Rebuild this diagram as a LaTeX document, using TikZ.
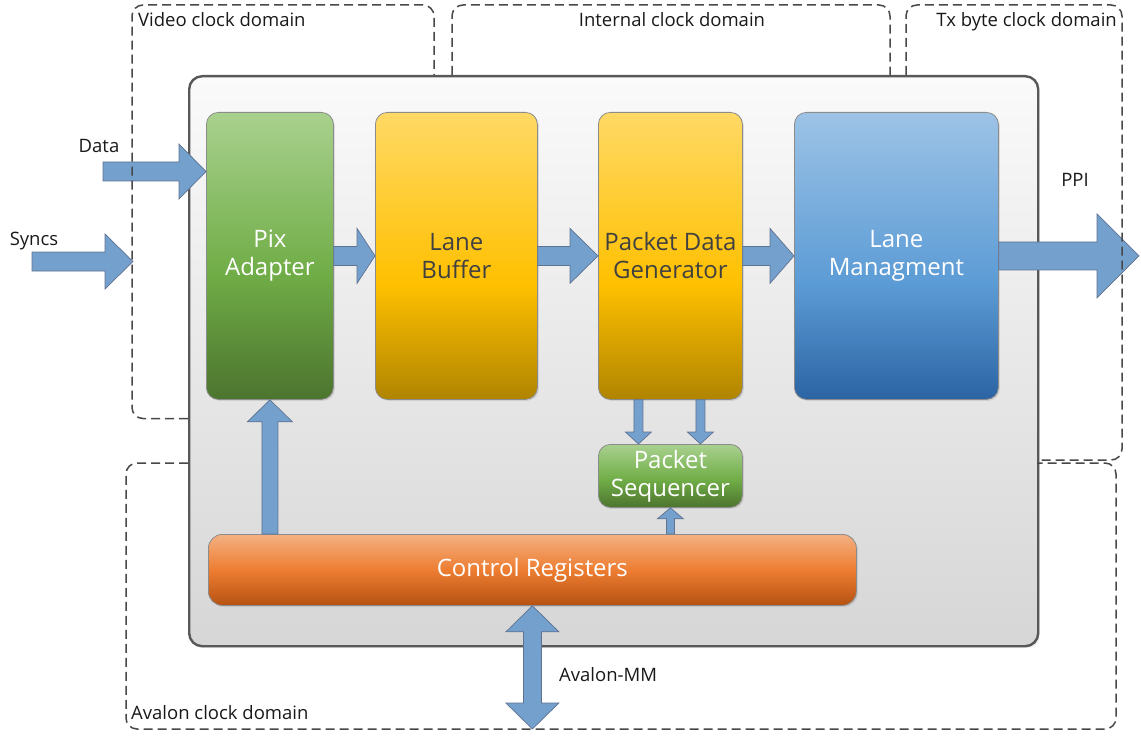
\documentclass[tikz,border=0pt]{standalone}
\usepackage{fontspec}
\setmainfont{Open Sans}
\usetikzlibrary{calc,shadows}
\definecolor{arrfill}{RGB}{116,160,206}
\definecolor{arrdraw}{RGB}{95,115,145}
\definecolor{dashcol}{RGB}{72,72,72}
\definecolor{mainborder}{RGB}{88,88,88}
\definecolor{gT}{RGB}{169,209,142}\definecolor{gM}{RGB}{112,173,71}\definecolor{gB}{RGB}{76,116,46}
\definecolor{yT}{RGB}{255,217,102}\definecolor{yM}{RGB}{255,192,0}\definecolor{yB}{RGB}{176,132,0}
\definecolor{bT}{RGB}{157,195,230}\definecolor{bM}{RGB}{91,155,213}\definecolor{bB}{RGB}{44,100,163}
\definecolor{oT}{RGB}{244,177,131}\definecolor{oM}{RGB}{237,125,49}\definecolor{oB}{RGB}{182,82,18}
\definecolor{mT}{RGB}{250,250,250}\definecolor{mB}{RGB}{214,214,214}
\definecolor{darktext}{RGB}{64,64,64}
\pgfdeclareverticalshading{greensh}{100bp}{color(0bp)=(gB); color(25bp)=(gB); color(47bp)=(gM); color(75bp)=(gT); color(100bp)=(gT)}
\pgfdeclareverticalshading{yellowsh}{100bp}{color(0bp)=(yB); color(25bp)=(yB); color(45bp)=(yM); color(75bp)=(yT); color(100bp)=(yT)}
\pgfdeclareverticalshading{bluesh}{100bp}{color(0bp)=(bB); color(25bp)=(bB); color(45bp)=(bM); color(75bp)=(bT); color(100bp)=(bT)}
\pgfdeclareverticalshading{orangesh}{100bp}{color(0bp)=(oB); color(25bp)=(oB); color(50bp)=(oM); color(75bp)=(oT); color(100bp)=(oT)}
\pgfdeclareverticalshading{mainsh}{100bp}{color(0bp)=(mB); color(25bp)=(mB); color(75bp)=(mT); color(100bp)=(mT)}
\tikzset{
  blockbox/.style={rectangle, rounded corners=12pt, draw=black!45, line width=0.8pt, align=center,
    font=\fontsize{24}{28}\selectfont, inner sep=0pt,
    drop shadow={opacity=0.22, shadow xshift=1.5pt, shadow yshift=-1.5pt}},
  barrow/.style={fill=arrfill, draw=arrdraw, line width=0.7pt, line join=miter},
  clkdomain/.style={draw=dashcol, line width=1.5pt, dash pattern=on 9pt off 5pt, rounded corners=11pt},
  lbl/.style={font=\fontsize{18.5}{20}\selectfont, inner sep=0pt, text=black!90}
}
\newcommand{\rarr}[5]{\path[barrow] let \p1=(#1), \p2=(#2) in (\x1,\y1+#3) -- (\x2-#5,\y1+#3) -- (\x2-#5,\y1+#4) -- (\x2,\y1) -- (\x2-#5,\y1-#4) -- (\x2-#5,\y1-#3) -- (\x1,\y1-#3) -- cycle;}
\newcommand{\uarr}[5]{\path[barrow] let \p1=(#1), \p2=(#2) in (\x1-#3,\y1) -- (\x1-#3,\y2-#5) -- (\x1-#4,\y2-#5) -- (\x1,\y2) -- (\x1+#4,\y2-#5) -- (\x1+#3,\y2-#5) -- (\x1+#3,\y1) -- cycle;}
\newcommand{\darr}[5]{\path[barrow] let \p1=(#1), \p2=(#2) in (\x1-#3,\y1) -- (\x1-#3,\y2+#5) -- (\x1-#4,\y2+#5) -- (\x1,\y2) -- (\x1+#4,\y2+#5) -- (\x1+#3,\y2+#5) -- (\x1+#3,\y1) -- cycle;}
\newcommand{\dblarr}[5]{\path[barrow] let \p1=(#1), \p2=(#2) in (\x1,\y1) -- (\x1+#4,\y1-#5) -- (\x1+#3,\y1-#5) -- (\x1+#3,\y2+#5) -- (\x1+#4,\y2+#5) -- (\x1,\y2) -- (\x1-#4,\y2+#5) -- (\x1-#3,\y2+#5) -- (\x1-#3,\y1-#5) -- (\x1-#4,\y1-#5) -- cycle;}
\begin{document}
\begin{tikzpicture}[x=1pt,y=-1pt]
\useasboundingbox[fill=white] (0,0) rectangle (1141,741);
% main box
\node[rectangle, rounded corners=13pt, draw=mainborder, line width=2.4pt, shading=mainsh,
  minimum width=849pt, minimum height=570pt, anchor=north west, inner sep=0pt,
  drop shadow={opacity=0.15, shadow xshift=1.5pt, shadow yshift=-2pt}] (main) at (188,75) {};
% blocks
\node[blockbox, shading=greensh, text=white, minimum width=127pt, minimum height=287pt, anchor=north west] (pix) at (206,112) {Pix\\Adapter};
\node[blockbox, shading=yellowsh, text=darktext, minimum width=162pt, minimum height=287pt, anchor=north west] (lane) at (375,112) {Lane\\Buffer};
\node[blockbox, shading=yellowsh, text=darktext, minimum width=144pt, minimum height=287pt, anchor=north west] (pdg) at (598,112) {Packet Data\\Generator};
\node[blockbox, shading=bluesh, text=white, minimum width=204pt, minimum height=287pt, anchor=north west] (lm) at (794,112) {Lane\\Managment};
\node[blockbox, shading=greensh, text=white, minimum width=144pt, minimum height=63pt, anchor=north west] (ps) at (598,444) {Packet\\Sequencer};
\node[blockbox, shading=orangesh, text=white, rounded corners=14pt, minimum width=648pt, minimum height=71pt, anchor=north west] (cr) at (208,534) {Control Registers};
% free ends
\coordinate (dataS) at (103,171.5);
\coordinate (syncS) at (32,261.5);
\coordinate (syncT) at (133,261.5);
\coordinate (ppiT) at (1139,255.5);
\coordinate (avB) at (532,729);
% arrows
\rarr{dataS}{pix.west |- dataS}{9.5pt}{27.5pt}{27pt}
\rarr{syncS}{syncT}{9.5pt}{27.5pt}{28pt}
\rarr{pix.east}{lane.west}{9.5pt}{27.5pt}{18pt}
\rarr{lane.east}{pdg.west}{9.5pt}{27.5pt}{28pt}
\rarr{pdg.east}{lm.west}{9.5pt}{27.5pt}{24pt}
\rarr{lm.east}{ppiT}{14pt}{42pt}{42pt}
\darr{[xshift=-32pt]pdg.south}{[xshift=-32pt]ps.north}{4.5pt}{13pt}{12pt}
\darr{[xshift=30pt]pdg.south}{[xshift=30pt]ps.north}{4.5pt}{13pt}{12pt}
\uarr{cr.north -| ps.south}{ps.south}{4pt}{13pt}{11pt}
\uarr{cr.north -| pix.south}{pix.south}{8pt}{22.5pt}{22pt}
\dblarr{cr.south}{avB}{9pt}{26.5pt}{26pt}
% clock domains
\draw[clkdomain] (188,418.5) -- (132,418.5) -- (132,5) -- (434,5) -- (434,75);
\draw[clkdomain] (452,75) -- (452,5) -- (890,5) -- (890,75);
\draw[clkdomain] (906,75) -- (906,5) -- (1122,5) -- (1122,460) -- (1037,460);
\draw[clkdomain] (188,463) -- (126,463) -- (126,729) -- (1116,729) -- (1116,463) -- (1037,463);
% labels
\node[lbl, anchor=base west] (lvid) at (138,27) {Video clock domain};
\node[lbl, anchor=base] (lint) at (672,27) {Internal clock domain};
\node[lbl, anchor=base east] (ltx) at (1117,27) {Tx byte clock domain};
\node[lbl, anchor=base west] (lav) at (131,719) {Avalon clock domain};
\node[lbl, anchor=base] (ldata) at (99,153) {Data};
\node[lbl, anchor=base] (lsync) at (34,245) {Syncs};
\node[lbl, anchor=base] (lppi) at (1075,186) {PPI};
\node[lbl, anchor=base west] (lamm) at (559,681) {Avalon-MM};
\end{tikzpicture}
\end{document}
